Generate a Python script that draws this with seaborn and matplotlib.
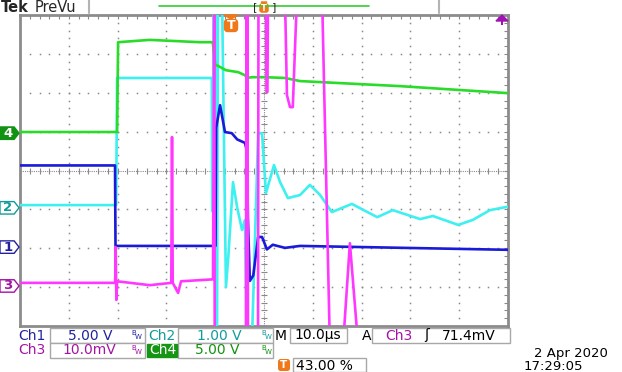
import numpy as np
import matplotlib.pyplot as plt
import seaborn as sns
from matplotlib.patches import Rectangle, FancyBboxPatch, Polygon

# screen values in graticule divisions (x: 0..10 div, y: -4..4 div)
ch4_x = [0, 1.99, 2.01, 2.66, 3.69, 3.95, 4.00, 4.06, 4.22, 4.47, 4.61, 4.65, 4.75, 5.02, 5.43, 5.74, 7.79, 10]
ch4_y = [0.99, 0.99, 3.30, 3.36, 3.30, 3.30, 2.72, 2.69, 2.58, 2.53, 2.45, 2.38, 2.40, 2.40, 2.38, 2.30, 2.17, 1.99]

ch2_x = [0, 1.97, 1.99, 3.93, 3.94, 3.955, 3.965, 4.00, 4.016, 4.037,
         4.057, 4.14, 4.22, 4.27, 4.365, 4.45, 4.55, 4.61, 4.65, 4.75,
         4.88, 4.96, 5.04, 5.205, 5.33, 5.49, 5.74, 5.94, 6.15, 6.39,
         6.80, 7.32, 7.64, 8.20, 8.46, 8.98, 9.28, 9.63, 10]
ch2_y = [-0.89, -0.89, 2.38, 2.38, -1.02, -1.07, 4.5, 4.5, -4.5, -4.5,
         4.5, 4.5, -3.0, -2.2, -0.30, -0.95, -1.53, -1.27, -4.5, -4.5,
         0.96, 0.96, -0.58, 0.14, -0.30, -0.71, -0.63, -0.37, -0.63, -1.07,
         -0.86, -1.20, -1.02, -1.25, -1.17, -1.40, -1.27, -1.02, -0.93]

ch1_x = [0, 1.947, 1.957, 4.006, 4.02, 4.10, 4.20, 4.34, 4.45, 4.61, 4.65,
         4.67, 4.71, 4.78, 4.88, 4.96, 5.06, 5.18, 5.43, 5.74, 10]
ch1_y = [0.13, 0.13, -1.94, -1.94, 1.1, 1.68, 0.99, 0.96, 0.80, 0.71, 0.50,
         -1.22, -2.84, -2.70, -1.71, -1.71, -2.03, -1.91, -1.99, -1.94, -2.04]

ch3_x = [0, 1.95, 1.96, 1.975, 1.99, 2.66, 3.10, 3.115, 3.13, 3.24,
         3.30, 3.955, 3.98, 3.99, 4.63, 4.64, 4.65, 4.66, 4.672, 4.877,
         4.887, 5.041, 5.051, 5.07, 5.082, 5.43, 5.47, 5.533, 5.59, 5.676,
         6.19, 6.35, 6.62, 6.76, 6.93, 10]
ch3_y = [-2.89, -2.89, -1.97, -3.33, -2.85, -2.95, -2.89, 0.86, -2.89, -3.15,
         -2.85, -2.80, 4.5, -4.5, -4.5, 4.5, -4.5, 4.5, -4.5, -4.5,
         4.5, 4.5, 2.02, 2.02, 4.5, 4.5, 1.94, 1.63, 1.63, 4.5,
         4.5, -4.5, -4.5, -1.87, -4.5, -4.5]

# ground reference markers (div)
marker_labels = ['4', '2', '1', '3']
marker_levels = [0.96, -0.96, -1.97, -2.97]

trace_col = {'1': '#1a1ad8', '2': '#3ef0f0', '3': '#ff38ff', '4': '#2adc2a'}
text_col = {'1': '#22229e', '2': '#119c9c', '3': '#a414a4', '4': '#129212'}
orange = '#f07818'
grid_col = '#8a8a8a'

sns.set_style("white")
plt.rcParams['font.family'] = ['DejaVu Sans']

fig = plt.figure(figsize=(6.22, 3.72), dpi=100)
bg = fig.add_axes([0, 0, 1, 1])
bg.set_xlim(0, 622)
bg.set_ylim(372, 0)
bg.axis('off')

ax = fig.add_axes([20 / 622, 46 / 372, 488 / 622, 311 / 372])
ax.set_facecolor('white')

# overlay for markers drawn over the graticule border
top = fig.add_axes([0, 0, 1, 1], zorder=10)
top.set_xlim(0, 622)
top.set_ylim(372, 0)
top.axis('off')
top.patch.set_alpha(0)

# graticule dots
minor_x = np.arange(0, 10.001, 0.2)
minor_y = np.arange(-4, 4.001, 0.2)
for yy in [-3, -2, -1, 1, 2, 3]:
    ax.plot(minor_x, np.full_like(minor_x, yy), ls='none', marker='s', ms=1.1,
            mew=0, color=grid_col, zorder=1)
for xx in [1, 2, 3, 4, 6, 7, 8, 9]:
    ax.plot(np.full_like(minor_y, xx), minor_y, ls='none', marker='s', ms=1.1,
            mew=0, color=grid_col, zorder=1)
# centre cross
ax.axhline(0, color=grid_col, lw=0.8, ls=(0, (1, 1)), zorder=1)
ax.axvline(5, color=grid_col, lw=0.8, ls=(0, (1, 1)), zorder=1)
ax.plot(minor_x, np.zeros_like(minor_x), ls='none', marker='|', ms=4, mew=0.8,
        color=grid_col, zorder=1)
ax.plot(np.full_like(minor_y, 5), minor_y, ls='none', marker='_', ms=4, mew=0.8,
        color=grid_col, zorder=1)

# traces
lw = 1.9
sns.lineplot(x=ch2_x, y=ch2_y, ax=ax, color=trace_col['2'], lw=lw, sort=False, estimator=None, zorder=3)
sns.lineplot(x=ch4_x, y=ch4_y, ax=ax, color=trace_col['4'], lw=lw, sort=False, estimator=None, zorder=4)
sns.lineplot(x=ch1_x, y=ch1_y, ax=ax, color=trace_col['1'], lw=lw, sort=False, estimator=None, zorder=5)
sns.lineplot(x=ch3_x, y=ch3_y, ax=ax, color=trace_col['3'], lw=lw, sort=False, estimator=None, zorder=6)

ax.set_xlim(0, 10)
ax.set_ylim(-4, 4)
ax.set_xlabel('')
ax.set_ylabel('')
ax.set_xticks(minor_x)
ax.set_yticks(minor_y)
ax.tick_params(direction='in', length=3, width=0.8, color=grid_col, top=True, right=True,
               labelbottom=False, labelleft=False)
for sp in ax.spines.values():
    sp.set_color('#8c8c8c')
    sp.set_linewidth(2)

# ground markers on the left
for lab, lev in zip(marker_labels, marker_levels):
    xs = [-0.41, -0.12, -0.02, -0.12, -0.41]
    ys = [lev - 0.16, lev - 0.16, lev, lev + 0.16, lev + 0.16]
    filled = lab == '4'
    ax.fill(xs, ys, facecolor=text_col[lab] if filled else 'white',
            edgecolor=text_col[lab], lw=1, clip_on=False, zorder=7)
    ax.text(-0.25, lev, lab, color='white' if filled else text_col[lab],
            fontsize=9.5, fontweight='bold', ha='center', va='center', clip_on=False, zorder=8)

# header
bg.text(1, 8, 'Tek', fontsize=10.5, fontweight='bold', va='center', ha='left')
bg.text(35, 8, 'PreVu', fontsize=10.5, va='center', ha='left')
bg.plot([89, 89], [0, 13], color='#b4b4b4', lw=1.5)
bg.plot([439, 439], [0, 13], color='#b4b4b4', lw=1.5)
bg.plot([159, 369], [6, 6], color='#33cc33', lw=1.2)
bg.text(255, 7, '[', fontsize=8, va='center', ha='center')
bg.text(274, 7, ']', fontsize=8, va='center', ha='center')
bg.add_patch(FancyBboxPatch((260, 4), 8, 8, boxstyle='round,pad=0.3,rounding_size=2',
                            fc=orange, ec=orange, lw=0.5))
bg.add_patch(Polygon([[261, 2], [267, 2], [264, 4]], closed=True, fc=orange, ec=orange))
bg.text(264, 8.3, 'T', fontsize=6, color='white', fontweight='bold', ha='center', va='center')

# trigger position marker
top.add_patch(Polygon([[224, 15], [238, 15], [231, 19]], closed=True, fc=orange, ec=orange))
top.add_patch(FancyBboxPatch((225, 20), 12, 11, boxstyle='round,pad=0.5,rounding_size=3',
                             fc=orange, ec=orange))
top.text(231, 25.8, 'T', fontsize=9, color='white', fontweight='bold', ha='center', va='center')
# trigger level arrow (above screen)
top.add_patch(Polygon([[496, 21], [508, 21], [502, 15]], closed=True, fc='#a012b4', ec='#a012b4'))
top.add_patch(Rectangle((501, 20), 2, 5, fc='#a012b4', ec='none'))

# status area
box_ec = '#a8a8a8'


def box(x0, x1, y0, y1, fc='white', ec=box_ec):
    bg.add_patch(Rectangle((x0, y0), x1 - x0, y1 - y0, fc=fc, ec=ec, lw=1))


def bw(x, y, c):
    bg.text(x, y - 2.5, 'B', fontsize=5, color=c, ha='left', va='center')
    bg.text(x + 4, y + 1.5, 'W', fontsize=5, color=c, ha='left', va='center')


fs = 10
r1, r2, r3 = 335.5, 350.5, 365.5
box(50, 145, 328, 343)
box(178, 273, 328, 343)
box(290, 347, 328, 343)
box(372, 510, 328, 343)
box(50, 145, 343, 358)
box(178, 273, 343, 358)
box(147, 177, 344, 357, fc='#149614', ec='#149614')
box(293, 366, 358, 372)

bg.text(18, r1, 'Ch1', fontsize=fs, color=text_col['1'], va='center')
bg.text(68, r1, '5.00 V', fontsize=fs, color=text_col['1'], va='center')
bw(131, r1, text_col['1'])
bg.text(148, r1, 'Ch2', fontsize=fs, color=text_col['2'], va='center')
bg.text(197, r1, '1.00 V', fontsize=fs, color=text_col['2'], va='center')
bw(261, r1, text_col['2'])
bg.text(275, r1, 'M', fontsize=fs, color='black', va='center')
bg.text(294, r1, '10.0µs', fontsize=fs, color='black', va='center')
bg.text(362, r1, 'A', fontsize=fs, color='black', va='center')
bg.text(385, r1, 'Ch3', fontsize=fs, color=text_col['3'], va='center')
bg.text(424, r1, 'ʃ', fontsize=fs, color='black', va='center')
bg.text(442, r1, '71.4mV', fontsize=fs, color='black', va='center')

bg.text(18, r2, 'Ch3', fontsize=fs, color=text_col['3'], va='center')
bg.text(62, r2, '10.0mV', fontsize=fs, color=text_col['3'], va='center')
bw(131, r2, text_col['3'])
bg.text(149, r2, 'Ch4', fontsize=fs, color='white', va='center')
bg.text(195, r2, '5.00 V', fontsize=fs, color=text_col['4'], va='center')
bw(261, r2, text_col['4'])

bg.add_patch(FancyBboxPatch((279, 360), 10, 10, boxstyle='round,pad=0.3,rounding_size=2',
                            fc=orange, ec=orange))
bg.text(284, 365.3, 'T', fontsize=7.5, color='white', fontweight='bold', ha='center', va='center')
bg.text(296, r3, '43.00 %', fontsize=fs, color='black', va='center')

bg.text(534, 353, '2 Apr 2020', fontsize=9.5, color='black', va='center')
bg.text(524, 366, '17:29:05', fontsize=9.5, color='black', va='center')

fig.savefig('out.png', dpi=100, facecolor='white')
